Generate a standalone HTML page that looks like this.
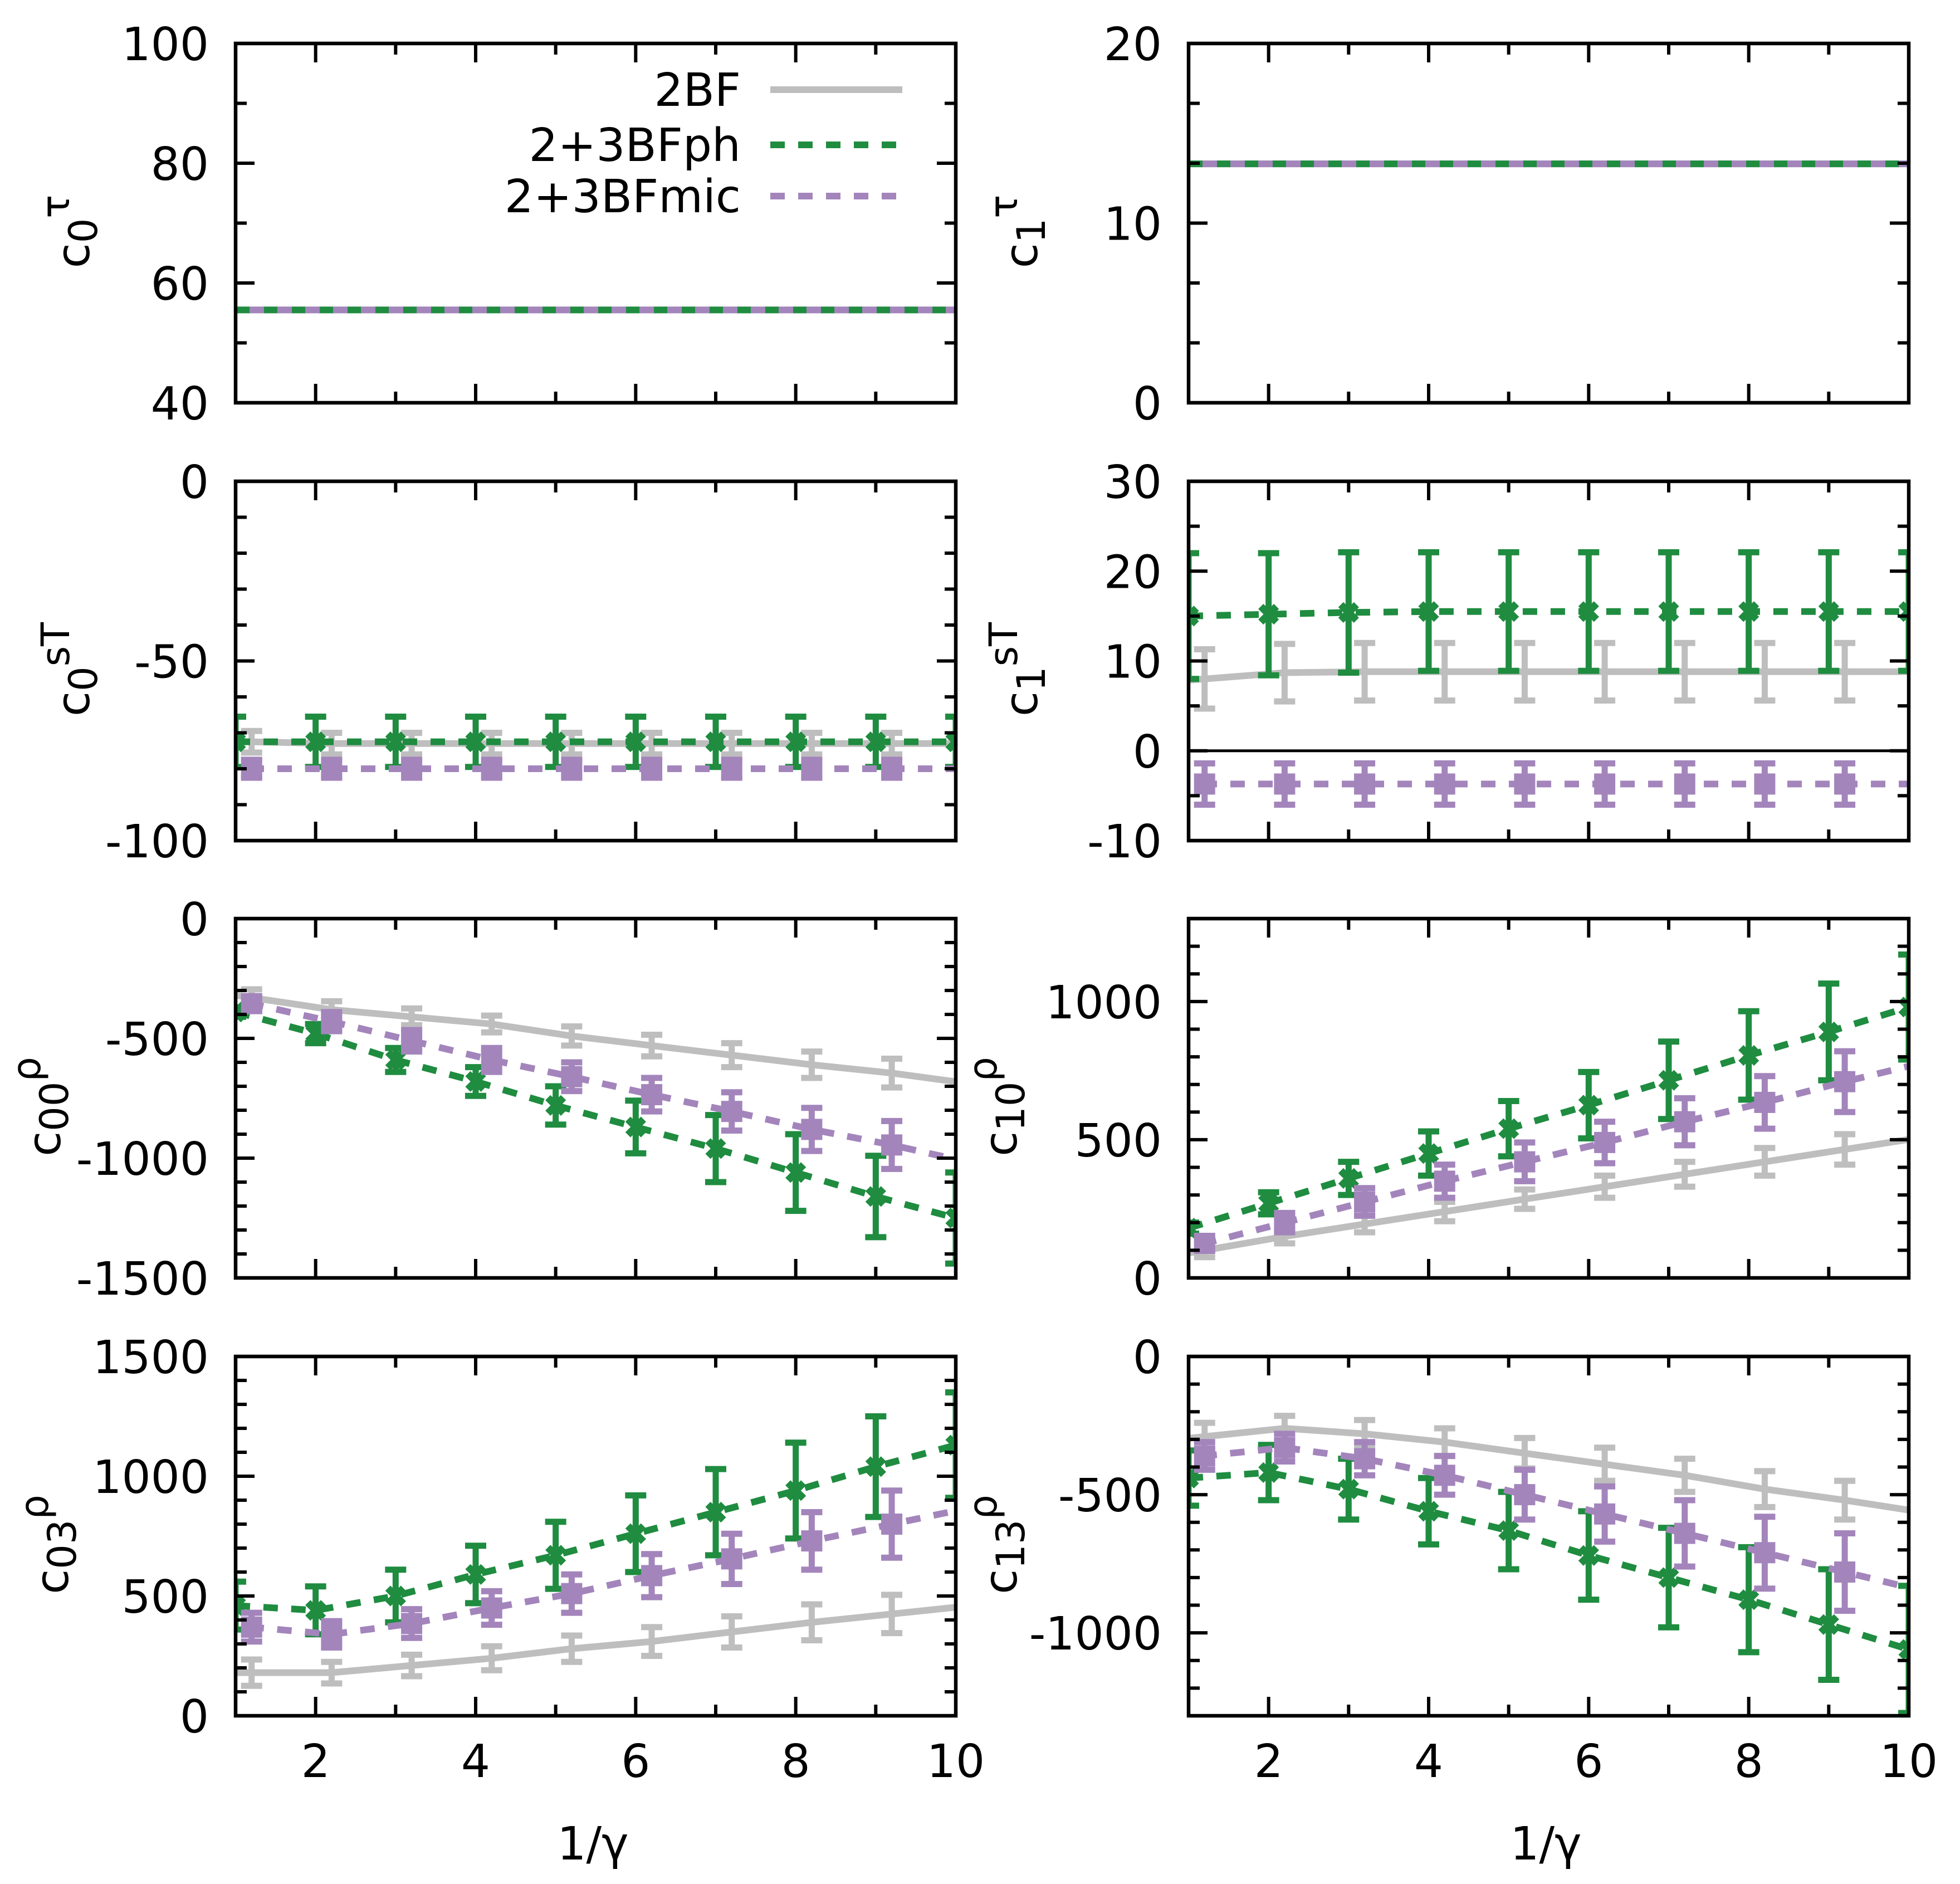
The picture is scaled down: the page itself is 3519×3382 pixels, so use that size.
<!DOCTYPE html>
<html><head><meta charset="utf-8"><style>
html,body{margin:0;padding:0;background:#fff;}
svg{display:block;}
text{font-family:"DejaVu Sans","Liberation Sans",sans-serif;fill:#000;}
</style></head>
<body>
<svg id="fig" xmlns="http://www.w3.org/2000/svg" width="3519" height="3382" viewBox="0 0 3519 3382"></svg>
<script>
// x positions
const xPh = [1,2,3,4,5,6,7,8,9,10];
const xOff = [1.2,2.2,3.2,4.2,5.2,6.2,7.2,8.2,9.2,10.2];
const xTickLabels = [2,4,6,8,10];

// panel c0tau
const c0tau2BF = [55.5,55.5,55.5,55.5,55.5,55.5,55.5,55.5,55.5,55.5];
const c0tauPh  = [55.5,55.5,55.5,55.5,55.5,55.5,55.5,55.5,55.5,55.5];
const c0tauMic = [55.5,55.5,55.5,55.5,55.5,55.5,55.5,55.5,55.5,55.5];
// panel c1tau
const c1tau2BF = [13.3,13.3,13.3,13.3,13.3,13.3,13.3,13.3,13.3,13.3];
const c1tauPh  = [13.3,13.3,13.3,13.3,13.3,13.3,13.3,13.3,13.3,13.3];
const c1tauMic = [13.3,13.3,13.3,13.3,13.3,13.3,13.3,13.3,13.3,13.3];
// panel c0sT
const c0sT2BF = [-72.5,-73,-73,-73,-73,-73,-73,-73,-73,-73];
const c0sT2BFErr = [3,3,3,3,3,3,3,3,3,3];
const c0sTPh = [-72.5,-72.5,-72.5,-72.5,-72.5,-72.5,-72.5,-72.5,-72.5,-72.5];
const c0sTPhErr = [7,7,7,7,7,7,7,7,7,7];
const c0sTMic = [-80,-80,-80,-80,-80,-80,-80,-80,-80,-80];
const c0sTMicErr = [2.5,2.5,2.5,2.5,2.5,2.5,2.5,2.5,2.5,2.5];
// panel c1sT
const c1sT2BF = [8,8.7,8.8,8.8,8.8,8.8,8.8,8.8,8.8,8.8];
const c1sT2BFErr = [3.3,3.2,3.2,3.2,3.2,3.2,3.2,3.2,3.2,3.2];
const c1sTPh = [15,15.2,15.4,15.5,15.5,15.5,15.5,15.5,15.5,15.5];
const c1sTPhErr = [7,6.8,6.7,6.6,6.6,6.6,6.6,6.6,6.6,6.6];
const c1sTMic = [-3.7,-3.7,-3.7,-3.7,-3.7,-3.7,-3.7,-3.7,-3.7,-3.7];
const c1sTMicErr = [2.3,2.3,2.3,2.3,2.3,2.3,2.3,2.3,2.3,2.3];
// panel c00rho
const c00rho2BF = [-330,-380,-410,-440,-490,-530,-570,-610,-645,-690];
const c00rho2BFErr = [35,35,35,35,40,45,50,55,60,60];
const c00rhoPh = [-390,-480,-590,-680,-780,-870,-960,-1060,-1160,-1250];
const c00rhoPhErr = [20,40,50,60,80,110,140,160,170,190];
const c00rhoMic = [-355,-430,-510,-590,-660,-735,-805,-880,-945,-1020];
const c00rhoMicErr = [30,40,45,50,60,70,80,90,100,100];
// panel c10rho
const c10rho2BF = [100,150,195,240,285,330,375,420,465,510];
const c10rho2BFErr = [25,25,30,35,35,40,45,50,55,55];
const c10rhoPh = [180,270,360,450,540,625,715,805,890,980];
const c10rhoPhErr = [20,40,60,80,100,120,140,160,175,190];
const c10rhoMic = [125,200,275,350,420,490,565,635,710,780];
const c10rhoMicErr = [25,35,50,60,70,75,85,95,110,110];
// panel c03rho
const c03rho2BF = [180,180,210,240,280,310,350,390,425,460];
const c03rho2BFErr = [55,45,45,50,55,60,65,75,80,80];
const c03rhoPh = [460,440,500,590,670,760,850,940,1040,1130];
const c03rhoPhErr = [100,100,110,120,140,160,180,200,210,220];
const c03rhoMic = [370,340,385,450,510,585,655,730,800,870];
const c03rhoMicErr = [60,55,60,70,80,90,105,120,140,140];
// panel c13rho
const c13rho2BF = [-290,-260,-280,-310,-350,-390,-430,-480,-520,-565];
const c13rho2BFErr = [50,45,50,50,55,60,60,65,70,70];
const c13rhoPh = [-440,-420,-480,-560,-630,-720,-800,-880,-970,-1060];
const c13rhoPhErr = [100,100,110,120,140,160,180,190,200,230];
const c13rhoMic = [-360,-330,-370,-430,-500,-570,-640,-710,-780,-850];
const c13rhoMicErr = [50,50,60,70,90,100,120,130,140,140];

const GRAY="#bebebe", GREEN="#1f8c40", PURP="#a385bc";
const NS="http://www.w3.org/2000/svg";
const svg=document.getElementById('fig');
function mk(tag,attrs,parent){const e=document.createElementNS(NS,tag);for(const k in attrs)e.setAttribute(k,attrs[k]);(parent||svg).appendChild(e);return e;}

const colL=423, colR=2134, W=1293, H=645;
const rowT=[78,864,1649,2435];

const panels=[
 {id:'c0tau',col:colL,row:0,ymin:40,ymax:100,maj:[40,60,80,100],minStep:10,lab:['c','0','τ'],lx:160,
  s:[[c0tau2BF,null,xOff,GRAY,false,null],[c0tauPh,null,xPh,GREEN,true,null],[c0tauMic,null,xOff,PURP,true,null]],legend:true},
 {id:'c1tau',col:colR,row:0,ymin:0,ymax:20,maj:[0,10,20],minStep:10/3,lab:['c','1','τ'],lx:1862,
  s:[[c1tau2BF,null,xOff,GRAY,false,null],[c1tauPh,null,xPh,GREEN,true,null],[c1tauMic,null,xOff,PURP,true,null]]},
 {id:'c0sT',col:colL,row:1,ymin:-100,ymax:0,maj:[-100,-50,0],minStep:10,lab:['c','0','sT'],lx:160,
  s:[[c0sT2BF,c0sT2BFErr,xOff,GRAY,false,null],[c0sTPh,c0sTPhErr,xPh,GREEN,true,'x'],[c0sTMic,c0sTMicErr,xOff,PURP,true,'sq']]},
 {id:'c1sT',col:colR,row:1,ymin:-10,ymax:30,maj:[-10,0,10,20,30],minStep:5,lab:['c','1','sT'],zero:true,lx:1862,
  s:[[c1sT2BF,c1sT2BFErr,xOff,GRAY,false,null],[c1sTPh,c1sTPhErr,xPh,GREEN,true,'x'],[c1sTMic,c1sTMicErr,xOff,PURP,true,'sq']]},
 {id:'c00rho',col:colL,row:2,ymin:-1500,ymax:0,maj:[-1500,-1000,-500,0],minStep:100,lab:['c','00','ρ'],lx:108,
  s:[[c00rho2BF,c00rho2BFErr,xOff,GRAY,false,null],[c00rhoPh,c00rhoPhErr,xPh,GREEN,true,'x'],[c00rhoMic,c00rhoMicErr,xOff,PURP,true,'sq']]},
 {id:'c10rho',col:colR,row:2,ymin:0,ymax:1300,maj:[0,500,1000],minStep:100,lab:['c','10','ρ'],lx:1825,
  s:[[c10rho2BF,c10rho2BFErr,xOff,GRAY,false,null],[c10rhoPh,c10rhoPhErr,xPh,GREEN,true,'x'],[c10rhoMic,c10rhoMicErr,xOff,PURP,true,'sq']]},
 {id:'c03rho',col:colL,row:3,ymin:0,ymax:1500,maj:[0,500,1000,1500],minStep:100,lab:['c','03','ρ'],xlab:true,lx:122,
  s:[[c03rho2BF,c03rho2BFErr,xOff,GRAY,false,null],[c03rhoPh,c03rhoPhErr,xPh,GREEN,true,'x'],[c03rhoMic,c03rhoMicErr,xOff,PURP,true,'sq']]},
 {id:'c13rho',col:colR,row:3,ymin:-1300,ymax:0,maj:[-1000,-500,0],minStep:100,lab:['c','13','ρ'],xlab:true,lx:1825,
  s:[[c13rho2BF,c13rho2BFErr,xOff,GRAY,false,null],[c13rhoPh,c13rhoPhErr,xPh,GREEN,true,'x'],[c13rhoMic,c13rhoMicErr,xOff,PURP,true,'sq']]},
];
const names=['2bf','ph','mic'];
const dashOff=[0,0,25];

panels.forEach((p,pi)=>{
  const x0=p.col, y0=rowT[p.row];
  const xs=v=>x0+(v-1)/9*W;
  const ys=v=>y0+H-(v-p.ymin)/(p.ymax-p.ymin)*H;
  const g=mk('g',{});
  
  
  const cp=mk('clipPath',{id:'clip'+pi},g);
  mk('rect',{x:x0,y:y0,width:W,height:H},cp);
  if(p.zero){const z=mk('line',{x1:x0,x2:x0+W,y1:ys(0),y2:ys(0),stroke:'#000','stroke-width':5},g);
    }
  const dg=mk('g',{'clip-path':'url(#clip'+pi+')'},g);
  p.s.forEach((s,si)=>{
    const [vals,errs,xv,col,dash,mark]=s;
    const sg=mk('g',{},dg);
    
    
    let d='';vals.forEach((v,i)=>{d+=(i?'L':'M')+xs(xv[i]).toFixed(1)+' '+ys(v).toFixed(1);});
    if(xv[0]>1){const a=vals[0],b=vals[1],t=(1-xv[0])/(xv[1]-xv[0]);d='M'+xs(1).toFixed(1)+' '+ys(a+(b-a)*t).toFixed(1)+'L'+d.slice(1);}
    const ln=mk('path',{d:d,fill:'none',stroke:col,'stroke-width':12,'stroke-dasharray':dash?'26 24':'none','stroke-dashoffset':dashOff[si],'stroke-linejoin':'round'},sg);
    
    
    if(errs){vals.forEach((v,i)=>{
      const cx=xs(xv[i]),yt=ys(v+errs[i]),yb=ys(v-errs[i]);
      const eb=mk('path',{d:`M${cx} ${yt}L${cx} ${yb}M${cx-19} ${yt}L${cx+19} ${yt}M${cx-19} ${yb}L${cx+19} ${yb}`,stroke:col,'stroke-width':11,fill:'none'},sg);
      
      
      const cy=ys(v);let m;
      if(mark==='x'){m=mk('path',{d:`M${cx-14} ${cy-14}L${cx+14} ${cy+14}M${cx-14} ${cy+14}L${cx+14} ${cy-14}`,stroke:col,'stroke-width':13,fill:'none'},sg);}
      else if(mark==='sq'){m=mk('rect',{x:cx-19,y:cy-19,width:38,height:38,fill:col},sg);}
      if(m){}
    });}
  });
  const fr=mk('rect',{x:x0,y:y0,width:W,height:H,fill:'none',stroke:'#000','stroke-width':6.5},g);
  
  
  let td='';
  for(let v=1;v<=10;v++){const x=xs(v),L=(v%2===0)?34:20;td+=`M${x} ${y0+H}L${x} ${y0+H-L}M${x} ${y0}L${x} ${y0+L}`;}
  const n=Math.round((p.ymax-p.ymin)/p.minStep);
  for(let k=0;k<=n;k++){const v=p.ymin+k*p.minStep,y=ys(v);const isM=p.maj.some(m=>Math.abs(m-v)<1e-6);const L=isM?34:20;
    td+=`M${x0} ${y}L${x0+L} ${y}M${x0+W} ${y}L${x0+W-L} ${y}`;}
  const tk=mk('path',{d:td,stroke:'#000','stroke-width':6,fill:'none'},g);
  
  
  p.maj.forEach(v=>{const t=mk('text',{x:x0-48,y:ys(v)+30,'text-anchor':'end','font-size':82},g);t.textContent=String(v);
    });
  if(p.xlab){xTickLabels.forEach(v=>{const t=mk('text',{x:xs(v),y:y0+H+110,'text-anchor':'middle','font-size':82},g);t.textContent=v;
      });
    const xl=mk('text',{x:x0+W/2-5,y:y0+H+258,'text-anchor':'middle','font-size':82},g);xl.textContent='1/γ';
    }
  const lx=p.lx, ly=y0+H/2+15;
  const yt=mk('text',{transform:`translate(${lx},${ly}) rotate(-90)`,'text-anchor':'middle','font-size':82},g);
  
  
  const t1=mk('tspan',{},yt);t1.textContent=p.lab[0];
  const t2=mk('tspan',{dy:14,'font-size':70},yt);t2.textContent=p.lab[1];
  const t3=mk('tspan',{dy:-50,'font-size':70},yt);t3.textContent=p.lab[2];
  if(p.legend){
    const lg=mk('g',{},g);
    
    
    const labs=['2BF','2+3BFph','2+3BFmic'],cols=[GRAY,GREEN,PURP],dsh=[false,true,true],ly2=[161,260,352];
    labs.forEach((l,i)=>{
      const t=mk('text',{x:1330,y:ly2[i]+29,'text-anchor':'end','font-size':82},lg);t.textContent=l;
      
      const s=mk('line',{x1:1383,x2:1620,y1:ly2[i],y2:ly2[i],stroke:cols[i],'stroke-width':12,'stroke-dasharray':dsh[i]?'26 24':'none'},lg);
      
    });
  }
});
</script>
</body></html>
